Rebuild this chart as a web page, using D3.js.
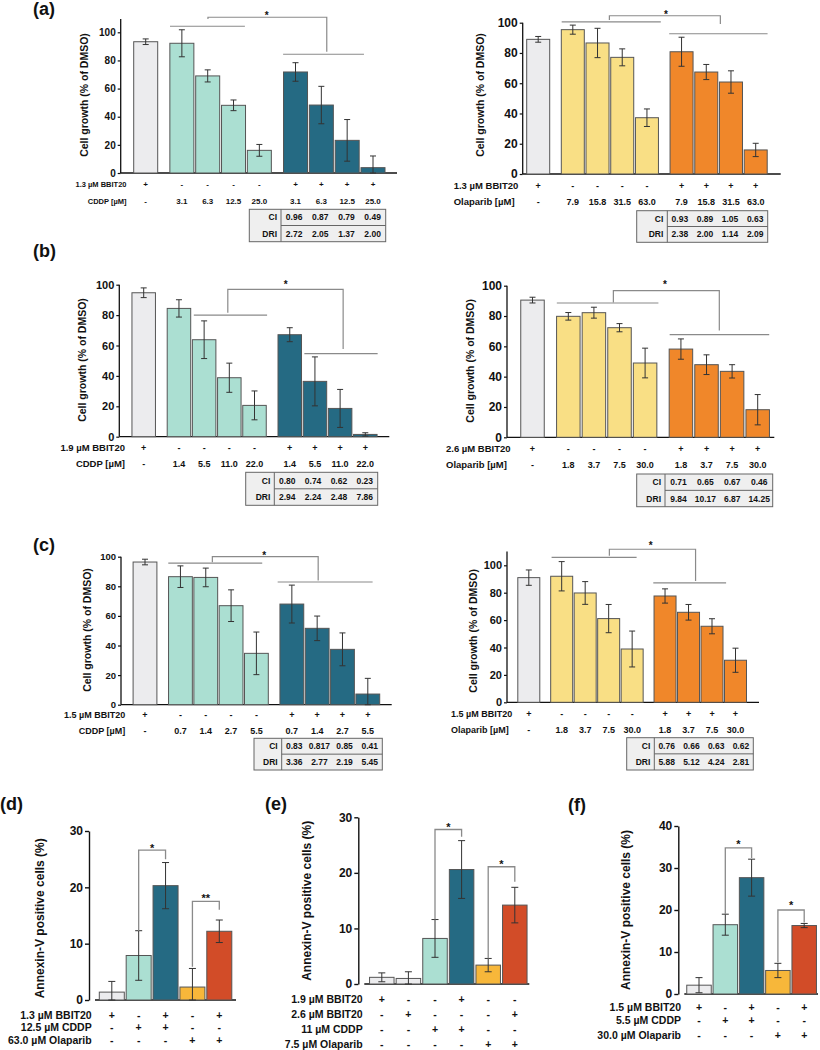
<!DOCTYPE html>
<html><head><meta charset="utf-8">
<script src="https://cdn.jsdelivr.net/npm/d3@7"></script>
<style>
body{margin:0;background:#fff}
svg{display:block}
text{font-family:"Liberation Sans",Arial,sans-serif;font-weight:bold;fill:#111}
</style>
</head><body>
<svg id="chart" width="820" height="1050"></svg>
<script>
// ================= DATA =================
const growthTicks = [0, 20, 40, 60, 80, 100];
const growthBbitSigns = ["+", "-", "-", "-", "-", "+", "+", "+", "+"];

// (a) CDDP
const aCddpDoses = ["3.1", "6.3", "12.5", "25.0"];
const aCddpMean = [93.3, 92.2, 69.0, 48.1, 16.1, 71.8, 48.3, 23.2, 3.8];
const aCddpErr  = [2.0, 9.6, 4.3, 3.8, 4.2, 6.6, 13.3, 14.8, 8.3];
const aCddpCI   = ["0.96", "0.87", "0.79", "0.49"];
const aCddpDRI  = ["2.72", "2.05", "1.37", "2.00"];
// (a) Olaparib
const aOlaDoses = ["7.9", "15.8", "31.5", "63.0"];
const aOlaMean = [89.0, 95.4, 86.6, 77.1, 37.2, 80.8, 67.4, 60.8, 15.9];
const aOlaErr  = [1.9, 3.0, 9.7, 5.6, 5.8, 9.6, 5.0, 7.4, 4.4];
const aOlaCI   = ["0.93", "0.89", "1.05", "0.63"];
const aOlaDRI  = ["2.38", "2.00", "1.14", "2.09"];
// (b) CDDP
const bCddpDoses = ["1.4", "5.5", "11.0", "22.0"];
const bCddpMean = [94.7, 84.4, 63.8, 38.8, 20.6, 67.1, 36.4, 18.6, 1.5];
const bCddpErr  = [3.2, 5.7, 12.4, 9.6, 9.5, 4.6, 16.1, 12.5, 1.1];
const bCddpCI   = ["0.80", "0.74", "0.62", "0.23"];
const bCddpDRI  = ["2.94", "2.24", "2.48", "7.86"];
// (b) Olaparib
const bOlaDoses = ["1.8", "3.7", "7.5", "30.0"];
const bOlaMean = [90.5, 79.8, 82.2, 72.3, 49.0, 58.2, 47.9, 43.5, 18.2];
const bOlaErr  = [1.9, 2.5, 3.6, 2.7, 9.8, 6.7, 6.5, 4.4, 10.0];
const bOlaCI   = ["0.71", "0.65", "0.67", "0.46"];
const bOlaDRI  = ["9.84", "10.17", "6.87", "14.25"];
// (c) CDDP
const cCddpDoses = ["0.7", "1.4", "2.7", "5.5"];
const cCddpMean = [96.4, 86.5, 86.0, 66.9, 34.7, 68.0, 51.6, 37.4, 7.2];
const cCddpErr  = [1.9, 7.3, 6.3, 10.7, 14.4, 12.8, 8.3, 11.1, 10.6];
const cCddpCI   = ["0.83", "0.817", "0.85", "0.41"];
const cCddpDRI  = ["3.36", "2.77", "2.19", "5.45"];
// (c) Olaparib
const cOlaDoses = ["1.8", "3.7", "7.5", "30.0"];
const cOlaMean = [91.0, 92.0, 79.8, 61.1, 38.9, 77.6, 65.7, 55.5, 30.7];
const cOlaErr  = [5.6, 10.7, 8.3, 10.3, 13.1, 5.2, 5.7, 5.5, 8.8];
const cOlaCI   = ["0.76", "0.66", "0.63", "0.62"];
const cOlaDRI  = ["5.88", "5.12", "4.24", "2.81"];

// (d) Annexin-V
const dTicks = [0, 10, 20, 30];
const dMean = [1.4, 7.9, 20.3, 2.3, 12.2];
const dErr  = [1.9, 4.4, 4.1, 3.3, 2.0];
const dRowLabels = ["1.3 µM BBIT20", "12.5 µM CDDP", "63.0 µM Olaparib"];
const dRows = [["+","-","+","-","+"], ["-","+","+","-","-"], ["-","-","-","+","+"]];
// (e)
const eTicks = [0, 10, 20, 30];
const eMean = [1.2, 1.0, 8.2, 20.6, 3.4, 14.2];
const eErr  = [0.8, 1.2, 3.4, 5.2, 1.2, 3.2];
const eRowLabels = ["1.9 µM BBIT20", "2.6 µM BBIT20", "11 µM CDDP", "7.5 µM Olaparib"];
const eRows = [["+","-","-","+","-","-"], ["-","+","-","-","-","+"], ["-","-","+","+","-","-"], ["-","-","-","-","+","+"]];
// (f)
const fTicks = [0, 10, 20, 30, 40];
const fMean = [2.1, 16.5, 27.7, 5.6, 16.3];
const fErr  = [1.8, 2.5, 4.4, 1.7, 0.5];
const fRowLabels = ["1.5 µM BBIT20", "5.5 µM CDDP", "30.0 µM Olaparib"];
const fRows = [["+","-","+","-","+"], ["-","+","+","-","-"], ["-","-","-","+","+"]];

// ================= STYLE =================
const C = {
  gray: "#ececee", teal: "#abdfd2", dark: "#256a83",
  yellow: "#f9df85", orange: "#f0872a", amber: "#f7b73a", red: "#d24c28",
  stroke: "#555", err: "#333", bracket: "#8a8a8a"
};

const svg = d3.select("#chart");

function txt(g, x, y, s, size, anchor, dy) {
  return g.append("text").attr("x", x).attr("y", y)
    .attr("dy", dy === undefined ? "0.36em" : dy)
    .attr("text-anchor", anchor || "middle")
    .style("font-size", size + "px").text(s);
}

// ================= GROWTH PANEL =================
function growthPanel(cfg) {
  const g = svg.append("g");
  const gap = 0.4;
  const slots = cfg.mean.map((d, i) => i + (i >= 1 ? gap : 0) + (i >= 5 ? gap : 0));
  const x = d3.scaleLinear().domain([0, 8 + 2 * gap]).range([cfg.xFirst, cfg.xLast]);
  const y = d3.scaleLinear().domain([0, 100]).range([cfg.y0, cfg.y100]);
  const fills = cfg.mean.map((d, i) => i === 0 ? C.gray : (i < 5 ? cfg.c1 : cfg.c2));

  // y axis
  const ax = g.append("g").attr("transform", `translate(${cfg.axisX},0)`)
    .call(d3.axisLeft(y).tickValues(growthTicks).tickSize(3).tickPadding(2).tickSizeOuter(0));
  ax.select(".domain").remove();
  ax.selectAll(".tick line").attr("stroke", "#111").attr("stroke-width", 1.2);
  ax.selectAll(".tick text").style("font-size", cfg.tickFont + "px").attr("fill", "#111")
    .style("font-family", '"Liberation Sans",Arial,sans-serif').style("font-weight", "bold");
  g.append("line").attr("x1", cfg.axisX).attr("x2", cfg.axisX)
    .attr("y1", y(0)).attr("y2", y(cfg.yMax)).attr("stroke", "#111").attr("stroke-width", 1.3);
  g.append("line").attr("x1", cfg.axisX).attr("x2", cfg.xEnd)
    .attr("y1", y(0)).attr("y2", y(0)).attr("stroke", "#111").attr("stroke-width", 1.3);

  // y title
  g.append("text").attr("transform", `translate(${cfg.titleX},${cfg.titleY}) rotate(-90)`)
    .attr("text-anchor", "middle").attr("dy", "0.36em")
    .style("font-size", cfg.titleFont + "px").text("Cell growth (% of DMSO)");

  // bars
  g.selectAll("rect.bar").data(cfg.mean).join("rect").attr("class", "bar")
    .attr("x", (d, i) => x(slots[i]) - cfg.bw / 2).attr("width", cfg.bw)
    .attr("y", d => y(d)).attr("height", d => y(0) - y(d))
    .attr("fill", (d, i) => fills[i]).attr("stroke", C.stroke).attr("stroke-width", 1);

  // error bars
  cfg.mean.forEach((m, i) => {
    const cx = x(slots[i]), e = cfg.err[i];
    const hi = y(m + e), lo = y(Math.max(m - e, 0));
    g.append("line").attr("x1", cx).attr("x2", cx).attr("y1", hi).attr("y2", lo)
      .attr("stroke", C.err).attr("stroke-width", 1);
    [hi, lo].forEach(v => g.append("line").attr("x1", cx - 3).attr("x2", cx + 3)
      .attr("y1", v).attr("y2", v).attr("stroke", C.err).attr("stroke-width", 1));
  });

  // group lines and bracket
  cfg.lines.forEach(l => g.append("line").attr("x1", x(l[0])).attr("x2", x(l[1]))
    .attr("y1", y(l[2])).attr("y2", y(l[2])).attr("stroke", C.bracket).attr("stroke-width", 1.2));
  const b = cfg.bracket;
  g.append("path").attr("d", `M${x(b[0])},${y(b[3])}V${y(b[2])}H${x(b[1])}V${y(b[4])}`)
    .attr("fill", "none").attr("stroke", C.bracket).attr("stroke-width", 1.2);
  txt(g, x(cfg.star[0]), y(cfg.star[1]), "*", 10, "middle", "0.55em");

  // rows under x axis
  const doses = ["-"].concat(cfg.doses, cfg.doses);
  txt(g, cfg.labelX, cfg.rowY[0], cfg.bbitLabel, cfg.labelFont, cfg.labelAnchor);
  txt(g, cfg.labelX, cfg.rowY[1], cfg.drugLabel, cfg.labelFont, cfg.labelAnchor);
  growthBbitSigns.forEach((s, i) => txt(g, x(slots[i]), cfg.rowY[0], s, cfg.valFont));
  doses.forEach((s, i) => txt(g, x(slots[i]), cfg.rowY[1], s, cfg.valFont));

  // CI / DRI table
  const t = cfg.table, mid = (t.y0 + t.y1) / 2;
  g.append("rect").attr("x", t.x0).attr("y", t.y0).attr("width", t.x1 - t.x0).attr("height", t.y1 - t.y0)
    .attr("fill", "#efefef").attr("stroke", "#666").attr("stroke-width", 1);
  g.append("line").attr("x1", t.div).attr("x2", t.div).attr("y1", t.y0).attr("y2", t.y1)
    .attr("stroke", "#666").attr("stroke-width", 1);
  g.append("line").attr("x1", t.div).attr("x2", t.x1).attr("y1", mid).attr("y2", mid)
    .attr("stroke", "#666").attr("stroke-width", 1);
  const cw = (t.x1 - t.div) / 4;
  const r1 = (t.y0 + mid) / 2, r2 = (mid + t.y1) / 2;
  txt(g, t.div - 4, r1, "CI", cfg.tableFont, "end");
  txt(g, t.div - 4, r2, "DRI", cfg.tableFont, "end");
  cfg.ci.forEach((s, i) => txt(g, t.div + cw * (i + 0.5), r1, s, cfg.tableFont));
  cfg.dri.forEach((s, i) => txt(g, t.div + cw * (i + 0.5), r2, s, cfg.tableFont));
}

// ================= ANNEXIN PANEL =================
function annexinPanel(cfg) {
  const g = svg.append("g");
  const idx = cfg.mean.map((d, i) => i);
  const x = d3.scalePoint().domain(idx).range([cfg.xFirst, cfg.xLast]);
  const y = d3.scaleLinear().domain([0, cfg.yMax]).range([cfg.y0, cfg.yTop]);

  const ax = g.append("g").attr("transform", `translate(${cfg.axisX},0)`)
    .call(d3.axisLeft(y).tickValues(cfg.ticks).tickSize(4).tickPadding(2).tickSizeOuter(0));
  ax.select(".domain").attr("stroke", "#111").attr("stroke-width", 1.4);
  ax.selectAll(".tick line").attr("stroke", "#111").attr("stroke-width", 1.4);
  ax.selectAll(".tick text").style("font-size", "12px").attr("fill", "#111")
    .style("font-family", '"Liberation Sans",Arial,sans-serif').style("font-weight", "bold");
  g.append("line").attr("x1", cfg.axisX + 6).attr("x2", cfg.xEnd)
    .attr("y1", y(0)).attr("y2", y(0)).attr("stroke", "#111").attr("stroke-width", 1.4);

  g.append("text").attr("transform", `translate(${cfg.titleX},${cfg.titleY}) rotate(-90)`)
    .attr("text-anchor", "middle").attr("dy", "0.36em")
    .style("font-size", "12px").text("Annexin-V positive cells (%)");

  g.selectAll("rect.bar").data(cfg.mean).join("rect").attr("class", "bar")
    .attr("x", (d, i) => x(i) - cfg.bw / 2).attr("width", cfg.bw)
    .attr("y", d => y(d)).attr("height", d => y(0) - y(d))
    .attr("fill", (d, i) => cfg.colors[i]).attr("stroke", C.stroke).attr("stroke-width", 1);

  cfg.mean.forEach((m, i) => {
    const cx = x(i), e = cfg.err[i];
    const hi = y(m + e), lo = y(Math.max(m - e, 0));
    g.append("line").attr("x1", cx).attr("x2", cx).attr("y1", hi).attr("y2", lo)
      .attr("stroke", C.err).attr("stroke-width", 1);
    [hi, lo].forEach(v => g.append("line").attr("x1", cx - 3.5).attr("x2", cx + 3.5)
      .attr("y1", v).attr("y2", v).attr("stroke", C.err).attr("stroke-width", 1));
  });

  cfg.brackets.forEach(b => {
    g.append("path").attr("d", `M${x(b[0])},${y(b[3])}V${y(b[2])}H${x(b[1])}V${y(b[4])}`)
      .attr("fill", "none").attr("stroke", C.bracket).attr("stroke-width", 1.3);
    txt(g, (x(b[0]) + x(b[1])) / 2, y(b[6]), b[5], 11, "middle", "0.55em");
  });

  cfg.rowLabels.forEach((lab, r) => {
    txt(g, cfg.labelX, cfg.rowY[r], lab, 10.5, "end");
    cfg.rows[r].forEach((s, i) => txt(g, x(i), cfg.rowY[r], s, 10.5));
  });
}

// ================= LAYOUT =================
growthPanel({
  mean: aCddpMean, err: aCddpErr, doses: aCddpDoses, ci: aCddpCI, dri: aCddpDRI,
  bbitLabel: "1.3 µM BBIT20", drugLabel: "CDDP [µM]", c1: C.teal, c2: C.dark,
  axisX: 120.7, y0: 173, y100: 32.3, yMax: 109.5, xEnd: 397, xFirst: 145.7, xLast: 373, bw: 24,
  tickFont: 10, titleFont: 10.5, titleX: 84, titleY: 95,
  labelX: 126.5, labelAnchor: "end", labelFont: 7.5, valFont: 8, rowY: [184.3, 201],
  table: {x0: 249.3, x1: 385.7, div: 281, y0: 209.3, y1: 241.7}, tableFont: 8.5,
  lines: [[0.94, 3.84, 104.3], [5.32, 8.45, 84.4]], bracket: [2.41, 7.01, 110.7, 109.5, 86.2], star: [4.68, 113.5]
});
growthPanel({
  mean: aOlaMean, err: aOlaErr, doses: aOlaDoses, ci: aOlaCI, dri: aOlaDRI,
  bbitLabel: "1.3 µM BBIT20", drugLabel: "Olaparib [µM]", c1: C.yellow, c2: C.orange,
  axisX: 522.7, y0: 174, y100: 22.7, yMax: 100, xEnd: 780.7, xFirst: 538.2, xLast: 755.7, bw: 23,
  tickFont: 12, titleFont: 10.5, titleX: 480, titleY: 95,
  labelX: 453.7, labelAnchor: "start", labelFont: 9.5, valFont: 9, rowY: [186, 201.3],
  table: {x0: 636.7, x1: 767.7, div: 667.3, y0: 210.7, y1: 242.3}, tableFont: 8.5,
  lines: [[0.95, 4.96, 100.5], [5.30, 9.28, 92.7]], bracket: [2.88, 7.37, 104.6, 101.8, 99.1], star: [5.17, 106.6]
});
growthPanel({
  mean: bCddpMean, err: bCddpErr, doses: bCddpDoses, ci: bCddpCI, dri: bCddpDRI,
  bbitLabel: "1.9 µM BBIT20", drugLabel: "CDDP [µM]", c1: C.teal, c2: C.dark,
  axisX: 119.3, y0: 436.7, y100: 284.7, yMax: 100, xEnd: 389.3, xFirst: 143.7, xLast: 365.3, bw: 23.5,
  tickFont: 11, titleFont: 10.5, titleX: 82.3, titleY: 360,
  labelX: 125, labelAnchor: "end", labelFont: 9.5, valFont: 9, rowY: [447.7, 463.3],
  table: {x0: 245.7, x1: 377.7, div: 274.3, y0: 472.3, y1: 505.3}, tableFont: 8.5,
  lines: [[1.99, 4.90, 80], [6.38, 9.29, 54.6]], bracket: [3.34, 7.92, 96.9, 81.6, 57.7], star: [5.64, 101.5]
});
growthPanel({
  mean: bOlaMean, err: bOlaErr, doses: bOlaDoses, ci: bOlaCI, dri: bOlaDRI,
  bbitLabel: "2.6 µM BBIT20", drugLabel: "Olaparib [µM]", c1: C.yellow, c2: C.orange,
  axisX: 507, y0: 437.3, y100: 285.7, yMax: 100, xEnd: 774.3, xFirst: 532.5, xLast: 757.7, bw: 23.5,
  tickFont: 12, titleFont: 10.5, titleX: 470, titleY: 360.8,
  labelX: 446, labelAnchor: "start", labelFont: 9.5, valFont: 9, rowY: [448.7, 464.7],
  table: {x0: 636.7, x1: 772.7, div: 665, y0: 474, y1: 506.7}, tableFont: 8.5,
  lines: [[0.95, 4.92, 88.6], [5.36, 9.25, 67.7]], bracket: [3.16, 7.30, 96.7, 89, 70.5], star: [5.18, 102.2]
});
growthPanel({
  mean: cCddpMean, err: cCddpErr, doses: cCddpDoses, ci: cCddpCI, dri: cCddpDRI,
  bbitLabel: "1.5 µM BBIT20", drugLabel: "CDDP [µM]", c1: C.teal, c2: C.dark,
  axisX: 121, y0: 704.7, y100: 556.7, yMax: 100, xEnd: 391.7, xFirst: 145, xLast: 367.8, bw: 23.8,
  tickFont: 9.5, titleFont: 10.5, titleX: 87.3, titleY: 630,
  labelX: 125.3, labelAnchor: "end", labelFont: 9, valFont: 9, rowY: [715, 730.5],
  table: {x0: 254, x1: 382.3, div: 281.7, y0: 738.3, y1: 770}, tableFont: 8.5,
  lines: [[0.92, 4.63, 95.7], [5.24, 8.99, 82.9]], bracket: [2.66, 6.84, 100, 96.2, 84], star: [4.71, 102]
});
growthPanel({
  mean: cOlaMean, err: cOlaErr, doses: cOlaDoses, ci: cOlaCI, dri: cOlaDRI,
  bbitLabel: "1.5 µM BBIT20", drugLabel: "Olaparib [µM]", c1: C.yellow, c2: C.orange,
  axisX: 507, y0: 702.3, y100: 565.3, yMax: 110, xEnd: 759, xFirst: 528.8, xLast: 735.5, bw: 22,
  tickFont: 11, titleFont: 10.5, titleX: 473.3, titleY: 630.8,
  labelX: 451, labelAnchor: "start", labelFont: 9, valFont: 9, rowY: [714, 729.5],
  table: {x0: 626.7, x1: 753.3, div: 654.3, y0: 737.7, y1: 770}, tableFont: 8.5,
  lines: [[0.97, 4.59, 105.8], [5.30, 8.40, 87.1]], bracket: [3.43, 7.10, 111.7, 107, 88.6], star: [5.19, 116]
});

annexinPanel({
  mean: dMean, err: dErr, ticks: dTicks, rowLabels: dRowLabels, rows: dRows,
  colors: [C.gray, C.teal, C.dark, C.amber, C.red],
  axisX: 89, y0: 1000, yTop: 831, yMax: 30, xEnd: 236, xFirst: 111.8, xLast: 219.3, bw: 25,
  titleX: 39.3, titleY: 918.3, labelX: 91.7, rowY: [1015, 1027.7, 1040],
  brackets: [[1, 2, 26.6, 12.3, 25, "*", 27.3], [3, 4, 17.5, 5.9, 16, "**", 18.5]]
});
annexinPanel({
  mean: eMean, err: eErr, ticks: eTicks, rowLabels: eRowLabels, rows: eRows,
  colors: [C.gray, C.gray, C.teal, C.dark, C.amber, C.red],
  axisX: 358.3, y0: 984, yTop: 817.3, yMax: 30, xEnd: 529.3, xFirst: 381.8, xLast: 514.8, bw: 24.5,
  titleX: 306.7, titleY: 900.8, labelX: 362.7, rowY: [999, 1014.3, 1029.3, 1044.7],
  brackets: [[2, 3, 27.8, 11.6, 26.5, "*", 28.7], [4, 5, 21.1, 4.6, 18.4, "*", 22]]
});
annexinPanel({
  mean: fMean, err: fErr, ticks: fTicks, rowLabels: fRowLabels, rows: fRows,
  colors: [C.gray, C.teal, C.dark, C.amber, C.red],
  axisX: 678.3, y0: 994, yTop: 826, yMax: 40, xEnd: 818, xFirst: 699, xLast: 804.2, bw: 24.5,
  titleX: 626, titleY: 910, labelX: 681, rowY: [1007, 1020.7, 1035],
  brackets: [[1, 2, 34.8, 19, 32.4, "*", 36.3], [3, 4, 20, 7.5, 17, "*", 21.7]]
});

// panel letters
const panelLetters = [["(a)", 33, 15], ["(b)", 33, 257], ["(c)", 33, 551], ["(d)", 0, 810], ["(e)", 265, 810], ["(f)", 568, 811]];
panelLetters.forEach(p => svg.append("text").attr("x", p[1]).attr("y", p[2])
  .style("font-size", "18px").text(p[0]));
</script>
</body></html>
